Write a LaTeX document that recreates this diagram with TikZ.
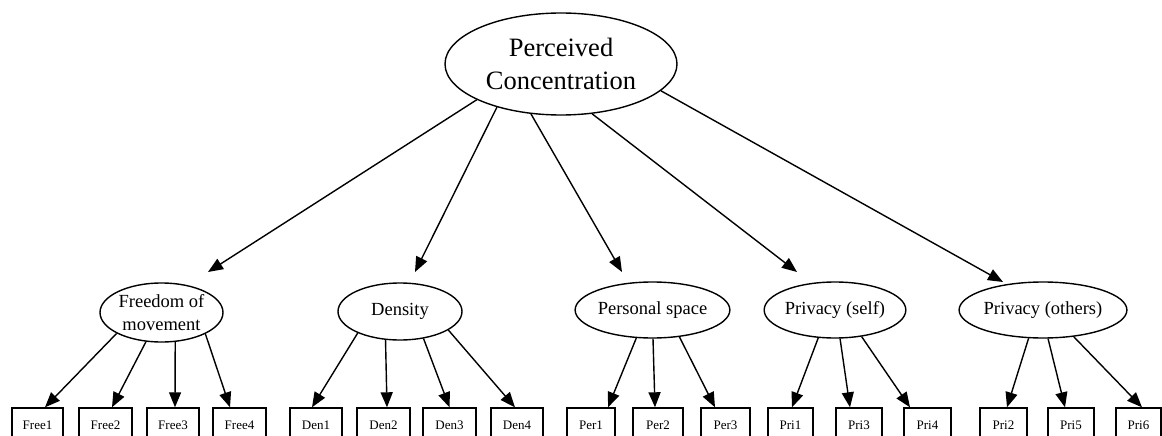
\documentclass[tikz,border=0pt]{standalone}
\usepackage{fontspec}
\setmainfont{Liberation Serif}
\usetikzlibrary{shapes.geometric,arrows.meta}
\begin{document}
\begin{tikzpicture}[x=1pt,y=-1pt,
  line width=1.4pt,
  arr/.style={-{Triangle[length=15pt,width=12pt]}},
  topell/.style={ellipse,draw,inner xsep=0pt,inner ysep=-20pt,align=center,font=\fontsize{26.5}{33}\selectfont},
  midell/.style={ellipse,draw,inner xsep=0pt,inner ysep=-15pt,align=center,minimum height=56pt,font=\fontsize{18.5}{23}\selectfont},
  leaf/.style={draw,inner sep=0pt,minimum height=34pt,font=\fontsize{13}{15}\selectfont}
]
\clip (0,0) rectangle (1162,436);
\fill[white] (0,0) rectangle (1162,436);

\node[topell,minimum width=232pt,minimum height=102pt] (top) at (561,64) {Perceived\\Concentration};

\node[midell,minimum width=123pt,minimum height=59pt] (free) at (161.5,312.5) {Freedom of\\movement};
\node[midell,minimum width=124pt,minimum height=57pt] (den) at (400,311.5) {Density};
\node[midell,minimum width=135pt] (per) at (652.5,310) {Personal space};
\node[midell,minimum width=136pt] (pris) at (835,310) {Privacy (self)};
\node[midell,minimum width=146pt] (prio) at (1043,310) {Privacy (others)};

\node[leaf,minimum width=51pt] (f1) at (37.5,425) {Free1};
\node[leaf,minimum width=53pt] (f2) at (105.5,425) {Free2};
\node[leaf,minimum width=52pt] (f3) at (173,425) {Free3};
\node[leaf,minimum width=53pt] (f4) at (239.5,425) {Free4};
\node[leaf,minimum width=52pt] (d1) at (316,425) {Den1};
\node[leaf,minimum width=53pt] (d2) at (383.5,425) {Den2};
\node[leaf,minimum width=53pt] (d3) at (449.5,425) {Den3};
\node[leaf,minimum width=52pt] (d4) at (517,425) {Den4};
\node[leaf,minimum width=48pt] (p1) at (591,425) {Per1};
\node[leaf,minimum width=50pt] (p2) at (658,425) {Per2};
\node[leaf,minimum width=49pt] (p3) at (725.5,425) {Per3};
\node[leaf,minimum width=45pt] (r1) at (790.5,425) {Pri1};
\node[leaf,minimum width=46pt] (r3) at (859,425) {Pri3};
\node[leaf,minimum width=47pt] (r4) at (927.5,425) {Pri4};
\node[leaf,minimum width=47pt] (r2) at (1003.5,425) {Pri2};
\node[leaf,minimum width=46pt] (r5) at (1071,425) {Pri5};
\node[leaf,minimum width=45pt] (r6) at (1138.5,425) {Pri6};

% top level arrows
\draw[arr] (top.203) -- ([shift={(46.5,-40.5)}]free.center);
\draw[arr] (top.214) -- ([shift={(15,-39.5)}]den.center);
\draw[arr] (top.239) -- ([shift={(-30.5,-38)}]per.center);
\draw[arr] (top.302) -- ([shift={(-38,-38)}]pris.center);
\draw[arr] (top.345) -- ([shift={(-40,-28)}]prio.center);

% lower arrows
\draw[arr] (free.205) -- ([xshift=7.5pt]f1.north);
\draw[arr] (free.242) -- ([xshift=6.5pt]f2.north);
\draw[arr] (free.295) -- ([xshift=2pt]f3.north);
\draw[arr] (free.334) -- ([xshift=-9.5pt]f4.north);

\draw[arr] (den.207) -- ([xshift=-4pt]d1.north);
\draw[arr] (den.243) -- ([xshift=3.5pt]d2.north);
\draw[arr] (den.311) -- (d3.north);
\draw[arr] (den.339) -- ([xshift=-2pt]d4.north);

\draw[arr] (per.240) -- ([xshift=17pt]p1.north);
\draw[arr] (per.271) -- ([xshift=-3pt]p2.north);
\draw[arr] (per.315) -- ([xshift=-10.5pt]p3.north);

\draw[arr] (pris.239) -- ([xshift=1.5pt]r1.north);
\draw[arr] (pris.280) -- ([xshift=-9pt]r3.north);
\draw[arr] (pris.315) -- ([xshift=-17.5pt]r4.north);

\draw[arr] (prio.243) -- ([xshift=3.5pt]r2.north);
\draw[arr] (prio.280) -- ([xshift=-6pt]r5.north);
\draw[arr] (prio.319) -- ([xshift=3.5pt]r6.north);
\end{tikzpicture}
\end{document}
